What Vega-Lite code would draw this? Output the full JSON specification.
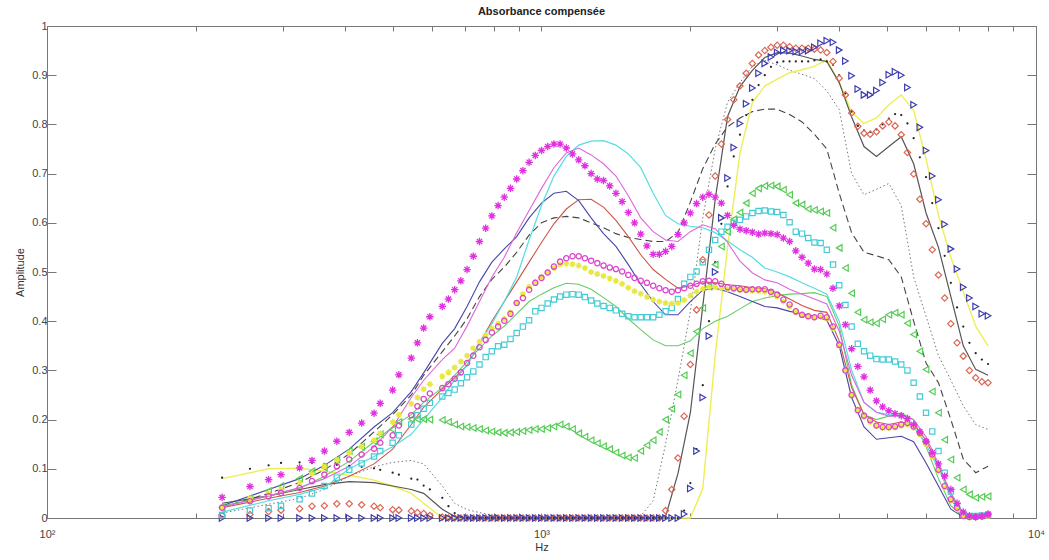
{
"$schema": "https://vega.github.io/schema/vega-lite/v6.json",
"width": 989, "height": 492,
"autosize": {"type": "none"},
"padding": {"left": 47, "top": 26, "right": 13, "bottom": 42},
"background": "white",
"title": {"text": "Absorbance compensée", "fontSize": 11, "fontWeight": "bold", "font": "Liberation Sans", "color": "#222", "offset": 3, "anchor": "middle"},
"datasets": {
"mk": [
{"f":226,"A":0.042,"G":0.021,"H":0.022,"I":0.006,"K":0.022,"L":0,"M":0.005,"N":0.082},
{"f":257.3,"A":0.064,"G":0.034,"H":0.04,"I":0.015,"K":0.04,"L":0,"M":0.007,"N":0.1},
{"f":280.6,"A":0.078,"G":0.044,"H":0.05,"I":0.02,"K":0.055,"L":0,"M":0.013,"N":0.107},
{"f":297.3,"A":0.088,"G":0.051,"H":0.058,"I":0.025,"K":0.065,"L":0,"M":0.016,"N":0.112},
{"f":324.2,"A":0.102,"G":0.061,"H":0.072,"I":0.038,"K":0.08,"L":0,"M":0.019,"N":0.113},
{"f":343.5,"A":0.117,"G":0.075,"H":0.09,"I":0.05,"K":0.095,"L":0,"M":0.024,"N":0.112},
{"f":363.9,"A":0.136,"G":0.088,"H":0.105,"I":0.065,"K":0.102,"L":0,"M":0.025,"N":0.11},
{"f":385.6,"A":0.156,"G":0.105,"H":0.118,"I":0.082,"K":0.119,"L":0,"M":0.029,"N":0.108},
{"f":408.5,"A":0.174,"G":0.119,"H":0.132,"I":0.098,"K":0.136,"L":0,"M":0.029,"N":0.106},
{"f":432.8,"A":0.193,"G":0.129,"H":0.145,"I":0.111,"K":0.145,"L":0,"M":0.027,"N":0.104},
{"f":458.5,"A":0.213,"G":0.141,"H":0.158,"I":0.125,"K":0.156,"L":0,"M":0.024,"N":0.101},
{"f":471.9,"A":0.233,"G":0.153,"H":0.172,"I":0.136,"K":0.17,"L":0,"M":0.021,"N":0.098},
{"f":500,"A":0.26,"G":0.168,"H":0.195,"I":0.153,"K":0.18,"L":0,"M":0.017,"N":0.092},
{"f":514.7,"A":0.291,"G":0.188,"H":0.21,"I":0.168,"K":0.195,"L":0,"M":0.016,"N":0.088},
{"f":545.3,"A":0.325,"G":0.209,"H":0.232,"I":0.19,"K":0.201,"L":0,"M":0.014,"N":0.08},
{"f":561.2,"A":0.356,"G":0.227,"H":0.245,"I":0.209,"K":0.201,"L":0,"M":0.011,"N":0.078},
{"f":577.7,"A":0.386,"G":0.242,"H":0.262,"I":0.222,"K":0.201,"L":0,"M":0.009,"N":0.066},
{"f":594.6,"A":0.409,"G":0.253,"H":0.272,"I":0.234,"K":0.2,"L":0,"M":0.005,"N":0.058},
{"f":630,"A":0.43,"G":0.264,"H":0.288,"I":0.247,"K":0.199,"L":0,"M":0.002,"N":0.041},
{"f":648.4,"A":0.445,"G":0.272,"H":0.296,"I":0.254,"K":0.195,"L":0,"M":0,"N":0.024},
{"f":667.4,"A":0.464,"G":0.283,"H":0.306,"I":0.261,"K":0.19,"L":0,"M":0,"N":0.01},
{"f":687,"A":0.482,"G":0.296,"H":0.318,"I":0.274,"K":0.186,"L":0,"M":0,"N":0.003},
{"f":707.1,"A":0.505,"G":0.315,"H":0.33,"I":0.286,"K":0.185,"L":0,"M":0,"N":0},
{"f":727.8,"A":0.532,"G":0.33,"H":0.345,"I":0.298,"K":0.183,"L":0,"M":0,"N":0},
{"f":749.2,"A":0.562,"G":0.347,"H":0.358,"I":0.312,"K":0.181,"L":0,"M":0,"N":0},
{"f":771.1,"A":0.589,"G":0.362,"H":0.372,"I":0.327,"K":0.178,"L":0,"M":0,"N":0},
{"f":793.7,"A":0.614,"G":0.377,"H":0.385,"I":0.339,"K":0.176,"L":0,"M":0,"N":0},
{"f":817,"A":0.635,"G":0.389,"H":0.395,"I":0.349,"K":0.174,"L":0,"M":0,"N":0},
{"f":840.9,"A":0.652,"G":0.401,"H":0.405,"I":0.352,"K":0.173,"L":0,"M":0,"N":0},
{"f":865.5,"A":0.67,"G":0.415,"H":0.418,"I":0.364,"K":0.174,"L":0,"M":0,"N":0},
{"f":890.9,"A":0.689,"G":0.437,"H":0.438,"I":0.376,"K":0.175,"L":0,"M":0,"N":0},
{"f":917,"A":0.706,"G":0.447,"H":0.455,"I":0.389,"K":0.177,"L":0,"M":0,"N":0},
{"f":943.9,"A":0.723,"G":0.464,"H":0.47,"I":0.402,"K":0.179,"L":0,"M":0,"N":0},
{"f":971.5,"A":0.737,"G":0.478,"H":0.48,"I":0.42,"K":0.181,"L":0,"M":0,"N":0},
{"f":1000,"A":0.747,"G":0.488,"H":0.49,"I":0.427,"K":0.181,"L":0,"M":0,"N":0},
{"f":1029.3,"A":0.755,"G":0.499,"H":0.5,"I":0.436,"K":0.183,"L":0,"M":0,"N":0},
{"f":1059.5,"A":0.76,"G":0.511,"H":0.508,"I":0.444,"K":0.186,"L":0,"M":0,"N":0},
{"f":1090.5,"A":0.76,"G":0.521,"H":0.515,"I":0.45,"K":0.19,"L":0,"M":0,"N":0},
{"f":1122.5,"A":0.752,"G":0.528,"H":0.517,"I":0.454,"K":0.186,"L":0,"M":0,"N":0},
{"f":1155.4,"A":0.74,"G":0.532,"H":0.516,"I":0.455,"K":0.181,"L":0,"M":0,"N":0},
{"f":1189.2,"A":0.728,"G":0.532,"H":0.513,"I":0.454,"K":0.172,"L":0,"M":0,"N":0},
{"f":1224.1,"A":0.716,"G":0.528,"H":0.508,"I":0.449,"K":0.165,"L":0,"M":0,"N":0},
{"f":1259.9,"A":0.7,"G":0.523,"H":0.5,"I":0.442,"K":0.158,"L":0,"M":0,"N":0},
{"f":1296.8,"A":0.689,"G":0.518,"H":0.496,"I":0.436,"K":0.152,"L":0,"M":0,"N":0},
{"f":1334.8,"A":0.686,"G":0.513,"H":0.492,"I":0.431,"K":0.146,"L":0,"M":0,"N":0},
{"f":1374,"A":0.675,"G":0.509,"H":0.487,"I":0.427,"K":0.14,"L":0,"M":0,"N":0},
{"f":1414.2,"A":0.66,"G":0.506,"H":0.482,"I":0.422,"K":0.133,"L":0,"M":0,"N":0},
{"f":1455.7,"A":0.643,"G":0.501,"H":0.476,"I":0.415,"K":0.127,"L":0,"M":0,"N":0},
{"f":1498.3,"A":0.621,"G":0.494,"H":0.468,"I":0.41,"K":0.123,"L":0,"M":0,"N":0},
{"f":1542.2,"A":0.6,"G":0.488,"H":0.461,"I":0.408,"K":0.122,"L":0,"M":0,"N":0},
{"f":1587.4,"A":0.577,"G":0.482,"H":0.456,"I":0.408,"K":0.136,"L":0,"M":0,"N":0},
{"f":1633.9,"A":0.553,"G":0.478,"H":0.449,"I":0.408,"K":0.148,"L":0,"M":0,"N":0},
{"f":1681.8,"A":0.536,"G":0.472,"H":0.444,"I":0.408,"K":0.158,"L":0,"M":0,"N":0},
{"f":1731.1,"A":0.536,"G":0.467,"H":0.44,"I":0.413,"K":0.175,"L":0,"M":0,"N":0},
{"f":1781.8,"A":0.542,"G":0.463,"H":0.437,"I":0.42,"K":0.2,"L":0,"M":0.015,"N":0},
{"f":1834,"A":0.552,"G":0.46,"H":0.436,"I":0.427,"K":0.222,"L":0,"M":0.058,"N":0},
{"f":1887.7,"A":0.576,"G":0.463,"H":0.437,"I":0.445,"K":0.251,"L":0,"M":0.122,"N":0},
{"f":1943.1,"A":0.6,"G":0.467,"H":0.443,"I":0.476,"K":0.29,"L":0.008,"M":0.207,"N":0.015},
{"f":2000,"A":0.62,"G":0.472,"H":0.452,"I":0.49,"K":0.335,"L":0.06,"M":0.312,"N":0.071},
{"f":2058.6,"A":0.639,"G":0.476,"H":0.46,"I":0.501,"K":0.379,"L":0.136,"M":0.423,"N":0.14},
{"f":2118.9,"A":0.652,"G":0.481,"H":0.466,"I":0.52,"K":0.427,"L":0.245,"M":0.525,"N":0.27},
{"f":2181,"A":0.658,"G":0.482,"H":0.469,"I":0.545,"K":0.47,"L":0.37,"M":0.616,"N":0.4},
{"f":2244.9,"A":0.652,"G":0.481,"H":0.469,"I":0.565,"K":0.515,"L":0.5,"M":0.695,"N":0.52},
{"f":2310.7,"A":0.64,"G":0.476,"H":0.467,"I":0.582,"K":0.552,"L":0.61,"M":0.76,"N":0.598},
{"f":2378.4,"A":0.615,"G":0.469,"H":0.465,"I":0.592,"K":0.582,"L":0.691,"M":0.81,"N":0.674},
{"f":2448.1,"A":0.595,"G":0.467,"H":0.464,"I":0.6,"K":0.607,"L":0.753,"M":0.85,"N":0.735},
{"f":2519.8,"A":0.587,"G":0.465,"H":0.463,"I":0.606,"K":0.621,"L":0.802,"M":0.878,"N":0.779},
{"f":2593.7,"A":0.584,"G":0.464,"H":0.462,"I":0.613,"K":0.64,"L":0.842,"M":0.904,"N":0.819},
{"f":2669.7,"A":0.581,"G":0.465,"H":0.462,"I":0.62,"K":0.66,"L":0.874,"M":0.924,"N":0.85},
{"f":2747.9,"A":0.577,"G":0.465,"H":0.461,"I":0.624,"K":0.67,"L":0.904,"M":0.941,"N":0.88},
{"f":2828.4,"A":0.579,"G":0.465,"H":0.46,"I":0.625,"K":0.675,"L":0.924,"M":0.95,"N":0.9},
{"f":2911.3,"A":0.578,"G":0.46,"H":0.456,"I":0.623,"K":0.676,"L":0.937,"M":0.957,"N":0.917},
{"f":2996.6,"A":0.576,"G":0.454,"H":0.45,"I":0.622,"K":0.674,"L":0.946,"M":0.961,"N":0.926},
{"f":3084.4,"A":0.569,"G":0.444,"H":0.44,"I":0.616,"K":0.667,"L":0.95,"M":0.961,"N":0.928},
{"f":3174.8,"A":0.562,"G":0.434,"H":0.43,"I":0.601,"K":0.657,"L":0.95,"M":0.958,"N":0.928},
{"f":3267.8,"A":0.543,"G":0.42,"H":0.418,"I":0.582,"K":0.64,"L":0.948,"M":0.955,"N":0.928},
{"f":3363.6,"A":0.53,"G":0.413,"H":0.412,"I":0.578,"K":0.637,"L":0.948,"M":0.955,"N":0.928},
{"f":3462.2,"A":0.518,"G":0.41,"H":0.409,"I":0.569,"K":0.628,"L":0.95,"M":0.955,"N":0.928},
{"f":3563.6,"A":0.506,"G":0.408,"H":0.407,"I":0.56,"K":0.626,"L":0.957,"M":0.953,"N":0.93},
{"f":3668,"A":0.505,"G":0.411,"H":0.408,"I":0.559,"K":0.623,"L":0.965,"M":0.951,"N":0.932},
{"f":3775.5,"A":0.496,"G":0.408,"H":0.405,"I":0.545,"K":0.62,"L":0.97,"M":0.946,"N":0.928},
{"f":3886.1,"A":0.467,"G":0.389,"H":0.385,"I":0.515,"K":0.59,"L":0.967,"M":0.928,"N":0.921},
{"f":4000,"A":0.431,"G":0.352,"H":0.35,"I":0.473,"K":0.549,"L":0.951,"M":0.894,"N":0.9},
{"f":4117.2,"A":0.393,"G":0.3,"H":0.3,"I":0.433,"K":0.508,"L":0.929,"M":0.86,"N":0.863},
{"f":4237.9,"A":0.344,"G":0.25,"H":0.25,"I":0.389,"K":0.457,"L":0.899,"M":0.823,"N":0.826},
{"f":4362,"A":0.308,"G":0.219,"H":0.22,"I":0.354,"K":0.418,"L":0.872,"M":0.796,"N":0.797},
{"f":4489.9,"A":0.287,"G":0.208,"H":0.205,"I":0.339,"K":0.403,"L":0.86,"M":0.782,"N":0.788},
{"f":4621.4,"A":0.26,"G":0.199,"H":0.195,"I":0.33,"K":0.398,"L":0.86,"M":0.78,"N":0.785},
{"f":4756.8,"A":0.238,"G":0.188,"H":0.187,"I":0.323,"K":0.396,"L":0.869,"M":0.785,"N":0.79},
{"f":4896.2,"A":0.226,"G":0.185,"H":0.183,"I":0.322,"K":0.404,"L":0.885,"M":0.797,"N":0.8},
{"f":5039.7,"A":0.218,"G":0.185,"H":0.183,"I":0.322,"K":0.413,"L":0.901,"M":0.805,"N":0.812},
{"f":5187.4,"A":0.212,"G":0.186,"H":0.184,"I":0.318,"K":0.417,"L":0.907,"M":0.797,"N":0.821},
{"f":5339.4,"A":0.208,"G":0.19,"H":0.187,"I":0.312,"K":0.413,"L":0.9,"M":0.779,"N":0.819},
{"f":5495.8,"A":0.202,"G":0.193,"H":0.19,"I":0.3,"K":0.396,"L":0.875,"M":0.743,"N":0.802},
{"f":5656.9,"A":0.19,"G":0.186,"H":0.183,"I":0.275,"K":0.373,"L":0.84,"M":0.699,"N":0.772},
{"f":5822.6,"A":0.175,"G":0.173,"H":0.17,"I":0.247,"K":0.339,"L":0.794,"M":0.648,"N":0.733},
{"f":5993.2,"A":0.155,"G":0.156,"H":0.15,"I":0.214,"K":0.302,"L":0.747,"M":0.598,"N":0.693},
{"f":6168.8,"A":0.133,"G":0.129,"H":0.125,"I":0.176,"K":0.257,"L":0.695,"M":0.545,"N":0.64},
{"f":6349.6,"A":0.11,"G":0.098,"H":0.095,"I":0.136,"K":0.214,"L":0.647,"M":0.494,"N":0.589},
{"f":6535.7,"A":0.085,"G":0.065,"H":0.062,"I":0.092,"K":0.159,"L":0.597,"M":0.447,"N":0.533},
{"f":6727.2,"A":0.058,"G":0.038,"H":0.035,"I":0.054,"K":0.119,"L":0.547,"M":0.395,"N":0.478},
{"f":6924.3,"A":0.03,"G":0.021,"H":0.018,"I":0.024,"K":0.082,"L":0.506,"M":0.356,"N":0.428},
{"f":7127.2,"A":0.012,"G":0.004,"H":0.004,"I":0.007,"K":0.058,"L":0.469,"M":0.329,"N":0.389},
{"f":7336,"A":0.004,"G":0.002,"H":0.001,"I":0.004,"K":0.048,"L":0.447,"M":0.3,"N":0.356},
{"f":7551,"A":0.002,"G":0.002,"H":0.001,"I":0.004,"K":0.041,"L":0.43,"M":0.285,"N":0.335},
{"f":7772.3,"A":0.004,"G":0.003,"H":0.002,"I":0.005,"K":0.043,"L":0.415,"M":0.277,"N":0.322},
{"f":8000,"A":0.008,"G":0.007,"H":0.004,"I":0.006,"K":0.044,"L":0.411,"M":0.275,"N":0.313}
],
"ln": [
{"f":226,"B":0.022,"C":0.012,"D":0.025,"E":0.021,"F":0.022,"J":0.024,"O":0.03,"P":0.08,"Q":0.01},
{"f":280.6,"B":0.045,"C":0.035,"D":0.058,"E":0.04,"F":0.05,"J":0.045,"O":0.045,"P":0.1,"Q":0.028},
{"f":324.2,"B":0.062,"C":0.048,"D":0.08,"E":0.052,"F":0.072,"J":0.06,"O":0.058,"P":0.101,"Q":0.04},
{"f":363.9,"B":0.08,"C":0.062,"D":0.107,"E":0.065,"F":0.098,"J":0.085,"O":0.068,"P":0.095,"Q":0.058},
{"f":408.5,"B":0.105,"C":0.1,"D":0.14,"E":0.085,"F":0.13,"J":0.115,"O":0.074,"P":0.087,"Q":0.085},
{"f":458.5,"B":0.145,"C":0.125,"D":0.185,"E":0.11,"F":0.175,"J":0.155,"O":0.072,"P":0.077,"Q":0.104},
{"f":500,"B":0.185,"C":0.145,"D":0.214,"E":0.14,"F":0.21,"J":0.185,"O":0.065,"P":0.065,"Q":0.113},
{"f":545.3,"B":0.245,"C":0.17,"D":0.257,"E":0.19,"F":0.25,"J":0.21,"O":0.058,"P":0.05,"Q":0.117},
{"f":577.7,"B":0.28,"C":0.2,"D":0.295,"E":0.225,"F":0.29,"J":0.235,"O":0.05,"P":0.03,"Q":0.11},
{"f":630,"B":0.322,"C":0.245,"D":0.355,"E":0.262,"F":0.338,"J":0.265,"O":0.018,"P":0,"Q":0.065},
{"f":667.4,"B":0.345,"C":0.28,"D":0.385,"E":0.285,"F":0.37,"J":0.29,"O":0.003,"P":0,"Q":0.03},
{"f":707.1,"B":0.39,"C":0.31,"D":0.43,"E":0.31,"F":0.405,"J":0.318,"O":0,"P":0,"Q":0.017},
{"f":749.2,"B":0.44,"C":0.355,"D":0.48,"E":0.355,"F":0.45,"J":0.345,"O":0,"P":0,"Q":0.011},
{"f":793.7,"B":0.49,"C":0.395,"D":0.52,"E":0.4,"F":0.485,"J":0.37,"O":0,"P":0,"Q":0.006},
{"f":840.9,"B":0.53,"C":0.44,"D":0.547,"E":0.44,"F":0.51,"J":0.39,"O":0,"P":0,"Q":0},
{"f":890.9,"B":0.58,"C":0.49,"D":0.572,"E":0.48,"F":0.54,"J":0.415,"O":0,"P":0,"Q":0},
{"f":943.9,"B":0.625,"C":0.565,"D":0.61,"E":0.52,"F":0.575,"J":0.44,"O":0,"P":0,"Q":0},
{"f":1000,"B":0.67,"C":0.635,"D":0.64,"E":0.56,"F":0.6,"J":0.455,"O":0,"P":0,"Q":0},
{"f":1059.5,"B":0.712,"C":0.695,"D":0.66,"E":0.598,"F":0.61,"J":0.468,"O":0,"P":0,"Q":0},
{"f":1122.5,"B":0.742,"C":0.735,"D":0.664,"E":0.628,"F":0.613,"J":0.477,"O":0,"P":0,"Q":0},
{"f":1189.2,"B":0.752,"C":0.758,"D":0.645,"E":0.647,"F":0.61,"J":0.475,"O":0,"P":0,"Q":0},
{"f":1259.9,"B":0.738,"C":0.766,"D":0.61,"E":0.648,"F":0.6,"J":0.465,"O":0,"P":0,"Q":0},
{"f":1334.8,"B":0.72,"C":0.767,"D":0.578,"E":0.632,"F":0.59,"J":0.448,"O":0,"P":0,"Q":0},
{"f":1414.2,"B":0.695,"C":0.758,"D":0.552,"E":0.605,"F":0.578,"J":0.43,"O":0,"P":0,"Q":0},
{"f":1498.3,"B":0.655,"C":0.74,"D":0.515,"E":0.572,"F":0.57,"J":0.405,"O":0,"P":0,"Q":0},
{"f":1587.4,"B":0.61,"C":0.712,"D":0.475,"E":0.535,"F":0.566,"J":0.383,"O":0,"P":0,"Q":0.004},
{"f":1681.8,"B":0.582,"C":0.66,"D":0.44,"E":0.505,"F":0.562,"J":0.362,"O":0,"P":0,"Q":0.035},
{"f":1781.8,"B":0.565,"C":0.615,"D":0.413,"E":0.485,"F":0.562,"J":0.35,"O":0.003,"P":0,"Q":0.15},
{"f":1887.7,"B":0.562,"C":0.598,"D":0.413,"E":0.467,"F":0.58,"J":0.35,"O":0.09,"P":0,"Q":0.28},
{"f":2000,"B":0.582,"C":0.593,"D":0.44,"E":0.472,"F":0.642,"J":0.36,"O":0.214,"P":0,"Q":0.42},
{"f":2118.9,"B":0.596,"C":0.59,"D":0.463,"E":0.48,"F":0.71,"J":0.385,"O":0.43,"P":0.06,"Q":0.61},
{"f":2244.9,"B":0.588,"C":0.58,"D":0.467,"E":0.478,"F":0.76,"J":0.4,"O":0.647,"P":0.33,"Q":0.75},
{"f":2378.4,"B":0.56,"C":0.563,"D":0.46,"E":0.474,"F":0.795,"J":0.41,"O":0.816,"P":0.55,"Q":0.845},
{"f":2519.8,"B":0.522,"C":0.545,"D":0.45,"E":0.472,"F":0.813,"J":0.425,"O":0.877,"P":0.742,"Q":0.885},
{"f":2669.7,"B":0.498,"C":0.53,"D":0.44,"E":0.468,"F":0.826,"J":0.44,"O":0.91,"P":0.845,"Q":0.918},
{"f":2828.4,"B":0.484,"C":0.508,"D":0.43,"E":0.466,"F":0.831,"J":0.447,"O":0.936,"P":0.878,"Q":0.93},
{"f":2996.6,"B":0.478,"C":0.5,"D":0.427,"E":0.458,"F":0.831,"J":0.452,"O":0.946,"P":0.892,"Q":0.921},
{"f":3174.8,"B":0.465,"C":0.49,"D":0.42,"E":0.445,"F":0.82,"J":0.455,"O":0.945,"P":0.905,"Q":0.91},
{"f":3363.6,"B":0.455,"C":0.478,"D":0.415,"E":0.432,"F":0.805,"J":0.456,"O":0.939,"P":0.911,"Q":0.902},
{"f":3563.6,"B":0.445,"C":0.467,"D":0.41,"E":0.422,"F":0.78,"J":0.458,"O":0.932,"P":0.918,"Q":0.893},
{"f":3775.5,"B":0.435,"C":0.455,"D":0.402,"E":0.418,"F":0.75,"J":0.45,"O":0.928,"P":0.931,"Q":0.868},
{"f":4000,"B":0.38,"C":0.4,"D":0.35,"E":0.36,"F":0.66,"J":0.39,"O":0.885,"P":0.885,"Q":0.83},
{"f":4237.9,"B":0.29,"C":0.3,"D":0.245,"E":0.265,"F":0.58,"J":0.27,"O":0.815,"P":0.825,"Q":0.7},
{"f":4489.9,"B":0.235,"C":0.235,"D":0.185,"E":0.21,"F":0.54,"J":0.21,"O":0.755,"P":0.802,"Q":0.657},
{"f":4756.8,"B":0.215,"C":0.215,"D":0.16,"E":0.195,"F":0.533,"J":0.2,"O":0.735,"P":0.813,"Q":0.668},
{"f":5039.7,"B":0.207,"C":0.21,"D":0.163,"E":0.19,"F":0.525,"J":0.207,"O":0.755,"P":0.84,"Q":0.68},
{"f":5339.4,"B":0.208,"C":0.207,"D":0.166,"E":0.195,"F":0.49,"J":0.213,"O":0.775,"P":0.86,"Q":0.635},
{"f":5656.9,"B":0.2,"C":0.185,"D":0.155,"E":0.19,"F":0.4,"J":0.2,"O":0.72,"P":0.828,"Q":0.49},
{"f":5993.2,"B":0.165,"C":0.15,"D":0.112,"E":0.158,"F":0.315,"J":0.145,"O":0.62,"P":0.73,"Q":0.41},
{"f":6349.6,"B":0.11,"C":0.1,"D":0.065,"E":0.105,"F":0.275,"J":0.08,"O":0.55,"P":0.615,"Q":0.33},
{"f":6727.2,"B":0.05,"C":0.045,"D":0.018,"E":0.045,"F":0.2,"J":0.025,"O":0.45,"P":0.53,"Q":0.28},
{"f":7127.2,"B":0.01,"C":0.01,"D":0.002,"E":0.008,"F":0.12,"J":0.003,"O":0.35,"P":0.46,"Q":0.228},
{"f":7551,"B":0.002,"C":0.002,"D":0,"E":0.002,"F":0.092,"J":0,"O":0.302,"P":0.39,"Q":0.19},
{"f":8000,"B":0.003,"C":0.003,"D":0,"E":0.003,"F":0.105,"J":0,"O":0.29,"P":0.35,"Q":0.18}
]
},
"encoding": {"x": {"field": "f", "type": "quantitative", "scale": {"type": "log", "domain": [100, 10000]}, "axis": null}},
"layer": [
{"data": {"name": "mk"}, "mark": {"type": "point", "opacity": 0},
 "encoding": {
  "x": {"field": "f", "type": "quantitative", "scale": {"type": "log", "domain": [100, 10000]},
   "axis": {"orient": "bottom", "values": [100,200,300,400,500,600,700,800,900,1000,2000,3000,4000,5000,6000,7000,8000,9000,10000],
    "labelExpr": "datum.value == 100 ? '10²' : datum.value == 1000 ? '10³' : datum.value == 10000 ? '10⁴' : ''",
    "tickSize": -5, "labelPadding": 15, "labelOverlap": false, "labelFlush": false, "labelBound": false,
    "title": "Hz", "titlePadding": 2}},
  "y": {"field": "A", "type": "quantitative", "scale": {"domain": [0, 1]},
   "axis": {"orient": "left", "values": [0,0.1,0.2,0.3,0.4,0.5,0.6,0.7,0.8,0.9,1], "format": "~g", "tickSize": -9, "labelPadding": 9, "title": "Amplitude", "titlePadding": 6}}}},
{"data": {"name": "ln"}, "mark": {"type": "line", "color": "#777777", "strokeWidth": 1, "strokeDash": [1.5, 2.5]}, "encoding": {"y": {"field": "Q", "type": "quantitative", "axis": null}}},
{"data": {"name": "ln"}, "mark": {"type": "line", "color": "#454545", "strokeWidth": 1.1, "strokeDash": [7, 4]}, "encoding": {"y": {"field": "F", "type": "quantitative", "axis": null}}},
{"data": {"name": "ln"}, "mark": {"type": "line", "color": "#eeee55", "strokeWidth": 1.4}, "encoding": {"y": {"field": "P", "type": "quantitative", "axis": null}}},
{"data": {"name": "ln"}, "mark": {"type": "line", "color": "#555555", "strokeWidth": 1.2}, "encoding": {"y": {"field": "O", "type": "quantitative", "axis": null}}},
{"data": {"name": "ln"}, "mark": {"type": "line", "color": "#66cc66", "strokeWidth": 1.1}, "encoding": {"y": {"field": "J", "type": "quantitative", "axis": null}}},
{"data": {"name": "ln"}, "mark": {"type": "line", "color": "#cc5544", "strokeWidth": 1.1}, "encoding": {"y": {"field": "E", "type": "quantitative", "axis": null}}},
{"data": {"name": "ln"}, "mark": {"type": "line", "color": "#4646aa", "strokeWidth": 1.1}, "encoding": {"y": {"field": "D", "type": "quantitative", "axis": null}}},
{"data": {"name": "ln"}, "mark": {"type": "line", "color": "#55dde0", "strokeWidth": 1.2}, "encoding": {"y": {"field": "C", "type": "quantitative", "axis": null}}},
{"data": {"name": "ln"}, "mark": {"type": "line", "color": "#dd66dd", "strokeWidth": 1.1}, "encoding": {"y": {"field": "B", "type": "quantitative", "axis": null}}},
{"data": {"name": "mk"}, "mark": {"type": "circle", "color": "#222222", "size": 5, "opacity": 1}, "encoding": {"y": {"field": "N", "type": "quantitative", "axis": null}}},
{"data": {"name": "mk"}, "mark": {"type": "point", "shape": "diamond", "filled": false, "color": "#dd6655", "strokeWidth": 1.2, "size": 40, "opacity": 1}, "encoding": {"y": {"field": "M", "type": "quantitative", "axis": null}}},
{"data": {"name": "mk"}, "mark": {"type": "point", "shape": "triangle-right", "filled": false, "color": "#3c3cb0", "strokeWidth": 1.2, "size": 42, "opacity": 1}, "encoding": {"y": {"field": "L", "type": "quantitative", "axis": null}}},
{"data": {"name": "mk"}, "mark": {"type": "point", "shape": "triangle-left", "filled": false, "color": "#55cc55", "strokeWidth": 1.2, "size": 42, "opacity": 1}, "encoding": {"y": {"field": "K", "type": "quantitative", "axis": null}}},
{"data": {"name": "mk"}, "mark": {"type": "point", "shape": "square", "filled": false, "color": "#44ccd6", "strokeWidth": 1.2, "size": 28, "opacity": 1}, "encoding": {"y": {"field": "I", "type": "quantitative", "axis": null}}},
{"data": {"name": "mk"}, "mark": {"type": "point", "shape": "M-1,0L1,0M0,-1L0,1M-0.7,-0.7L0.7,0.7M-0.7,0.7L0.7,-0.7", "filled": false, "color": "#e8e840", "strokeWidth": 1.4, "size": 36, "opacity": 1}, "encoding": {"y": {"field": "H", "type": "quantitative", "axis": null}}},
{"data": {"name": "mk"}, "mark": {"type": "point", "shape": "circle", "filled": false, "color": "#dd44cc", "strokeWidth": 1.3, "size": 28, "opacity": 1}, "encoding": {"y": {"field": "G", "type": "quantitative", "axis": null}}},
{"data": {"name": "mk"}, "mark": {"type": "point", "shape": "M-1,0L1,0M0,-1L0,1M-0.7,-0.7L0.7,0.7M-0.7,0.7L0.7,-0.7", "filled": false, "color": "#e030e0", "strokeWidth": 1.3, "size": 56, "opacity": 1}, "encoding": {"y": {"field": "A", "type": "quantitative", "axis": null}}},
{"data": {"name": "mk"}, "mark": {"type": "point", "opacity": 0},
 "encoding": {
  "x": {"field": "f", "type": "quantitative", "scale": {"type": "log", "domain": [100, 10000]},
   "axis": {"orient": "top", "values": [100,200,300,400,500,600,700,800,900,1000,2000,3000,4000,5000,6000,7000,8000,9000,10000], "labels": false, "tickSize": -5, "title": null}},
  "y": {"field": "A", "type": "quantitative",
   "axis": {"orient": "right", "values": [0,0.1,0.2,0.3,0.4,0.5,0.6,0.7,0.8,0.9,1], "labels": false, "tickSize": -9, "title": null}}}}
],
"resolve": {"axis": {"x": "independent", "y": "independent"}},
"config": {
 "view": {"stroke": null},
 "axis": {"grid": false, "domainColor": "#777777", "tickColor": "#777777", "labelColor": "#444444", "labelFont": "Liberation Sans", "labelFontSize": 11, "titleFont": "Liberation Sans", "titleFontSize": 11, "titleFontWeight": "normal", "titleColor": "#333333", "domainWidth": 1, "tickWidth": 1}
}
}
